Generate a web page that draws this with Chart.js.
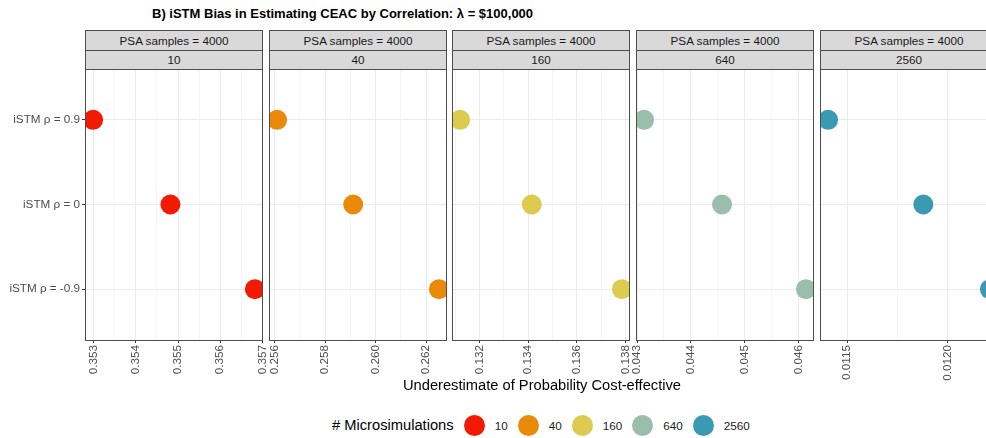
<!DOCTYPE html>
<html>
<head>
<meta charset="utf-8">
<script src="https://cdn.jsdelivr.net/npm/chart.js@4/dist/chart.umd.min.js"></script>
<style>
  body { margin: 0; background: #fff; overflow: hidden; font-family: "Liberation Sans", Arial, sans-serif }
  #wrap { position: relative; width: 986px; height: 438px; overflow: hidden }
  .abs { position: absolute }
  .strip { position: absolute; box-sizing: border-box; background: #d9d9d9; border: 1px solid #4d4d4d;
    font-size: 11.7px; color: #1a1a1a; text-align: center; white-space: nowrap }
  .frame { position: absolute; box-sizing: border-box; border: 1px solid #4d4d4d; pointer-events: none }
  #titulo { left: 152px; top: 6px; font-size: 13px; font-weight: bold; color: #000; white-space: nowrap }
  #eixo-x { left: 0; width: 1084px; top: 377px; text-align: center; font-size: 14.7px; color: #000 }
  #legenda { left: 332px; top: 414px; height: 22px; display: flex; align-items: center; font-size: 14.7px; color: #000 }
  .bola { width: 21px; height: 21px; border-radius: 50%; margin-left: 10px; margin-right: 10px }
  .leg-txt { font-size: 11.7px; color: #222 }
</style>
</head>
<body>
<div id="wrap">
  <div id="titulo" class="abs">B) iSTM Bias in Estimating CEAC by Correlation: λ = $100,000</div>
  <div id="paineis"></div>
  <div id="eixo-x" class="abs">Underestimate of Probability Cost-effective</div>
  <div id="legenda" class="abs"></div>
</div>
<script>
const categorias = ['iSTM ρ = 0.9', 'iSTM ρ = 0', 'iSTM ρ = -0.9']
const microsimulacoes = ['10', '40', '160', '640', '2560']
const cores = ['#F21A00', '#E98A0A', '#DCCB4E', '#9BBEAC', '#3A9AB2']
const faixaPSA = 'PSA samples = 4000'

// underestimate per correlation (0.9, 0, -0.9)
const vies10 = [0.35299, 0.35482, 0.35682]
const vies40 = [0.25610, 0.25911, 0.26250]
const vies160 = [0.13120, 0.13415, 0.13786]
const vies640 = [0.04313, 0.04458, 0.04614]
const vies2560 = [0.011406, 0.011878, 0.012208]

const ticks10 = ['0.353', '0.354', '0.355', '0.356', '0.357']
const ticks40 = ['0.256', '0.258', '0.260', '0.262']
const ticks160 = ['0.132', '0.134', '0.136', '0.138']
const ticks640 = ['0.043', '0.044', '0.045', '0.046']
const ticks2560 = ['0.0115', '0.0120']

const valores = [vies10, vies40, vies160, vies640, vies2560]
const rotulos = [ticks10, ticks40, ticks160, ticks640, ticks2560]

const esquerdas = [85, 269, 452, 636, 820]
const larguraPainel = 178
const topoPainel = 69
const alturaPainel = 271
const alturaEixo = 49
const larguraEixoY = 85
const margem = 10 // room for edge tick labels to spill over
const fonte = 'Liberation Sans'

function montarTicks(lbls, min, max) {
  const majors = lbls.map(Number)
  const passo = majors[1] - majors[0]
  const lista = lbls.map(l => ({ value: Number(l), lbl: l, principal: true }))
  for (let j = -1; j < majors.length; j++) {
    lista.push({ value: majors[0] + (j + 0.5) * passo, lbl: '', principal: false })
  }
  return lista.filter(t => t.value >= min && t.value <= max).sort((a, b) => a.value - b.value)
}

function criarPainel(i) {
  const vals = valores[i]
  const lo = Math.min(...vals)
  const hi = Math.max(...vals)
  const folga = (hi - lo) * 0.05
  const min = lo - folga
  const max = hi + folga
  const primeiro = i === 0
  const esq = esquerdas[i]
  const padEsq = primeiro ? 0 : margem

  const paineis = document.getElementById('paineis')
  const canvas = document.createElement('canvas')
  canvas.width = larguraPainel + (primeiro ? larguraEixoY : padEsq) + margem
  canvas.height = alturaPainel + alturaEixo
  canvas.className = 'abs'
  canvas.style.left = (primeiro ? esq - larguraEixoY : esq - padEsq) + 'px'
  canvas.style.top = topoPainel + 'px'
  paineis.appendChild(canvas)

  paineis.insertAdjacentHTML('beforeend', `
    <div class="strip" style="left:${esq}px;top:30px;width:${larguraPainel}px;height:21px;line-height:19px">${faixaPSA}</div>
    <div class="strip" style="left:${esq}px;top:50px;width:${larguraPainel}px;height:20px;line-height:18px">${microsimulacoes[i]}</div>
    <div class="frame" style="left:${esq}px;top:${topoPainel}px;width:${larguraPainel}px;height:${alturaPainel + 1}px"></div>
  `)

  new Chart(canvas, {
    type: 'scatter',
    data: {
      datasets: [{
        data: vals.map((v, j) => ({ x: v, y: j })),
        backgroundColor: cores[i],
        borderWidth: 0,
        pointRadius: 10,
        pointHoverRadius: 10,
        clip: 0
      }]
    },
    options: {
      responsive: false,
      animation: false,
      events: [],
      layout: { padding: { left: padEsq, right: margem, top: 0, bottom: 0 }, autoPadding: false },
      plugins: { legend: { display: false }, tooltip: { enabled: false } },
      scales: {
        x: {
          type: 'linear',
          min, max,
          afterBuildTicks: s => { s.ticks = montarTicks(rotulos[i], min, max) },
          afterFit: s => { s.height = alturaEixo; s.paddingLeft = 0; s.paddingRight = 0 },
          border: { display: false },
          grid: {
            color: c => c.tick && c.tick.principal ? '#ebebeb' : '#f5f5f5',
            tickColor: c => c.tick && c.tick.principal ? '#333333' : 'rgba(0,0,0,0)',
            tickLength: 3
          },
          ticks: {
            autoSkip: false,
            minRotation: 90,
            maxRotation: 90,
            padding: 2,
            color: '#4d4d4d',
            font: { family: fonte, size: 11.7 },
            callback: (v, idx, ts) => ts[idx].lbl
          }
        },
        y: {
          type: 'linear',
          reverse: true,
          min: -0.6,
          max: 2.6,
          afterBuildTicks: s => { s.ticks = categorias.map((c, j) => ({ value: j })) },
          afterFit: s => { s.width = primeiro ? larguraEixoY : 0; s.paddingTop = 0; s.paddingBottom = 0 },
          border: { display: false },
          grid: {
            color: '#ebebeb',
            drawTicks: primeiro,
            tickColor: '#333333',
            tickLength: 3
          },
          ticks: {
            display: primeiro,
            autoSkip: false,
            padding: 2,
            color: '#4d4d4d',
            font: { family: fonte, size: 11.7 },
            callback: v => categorias[v]
          }
        }
      }
    }
  })
}

valores.forEach((_, i) => criarPainel(i))

document.getElementById('legenda').innerHTML = '<span># Microsimulations</span>' +
  microsimulacoes.map((m, i) => `<div class="bola" style="background:${cores[i]}"></div><span class="leg-txt">${m}</span>`).join('')
</script>
</body>
</html>
